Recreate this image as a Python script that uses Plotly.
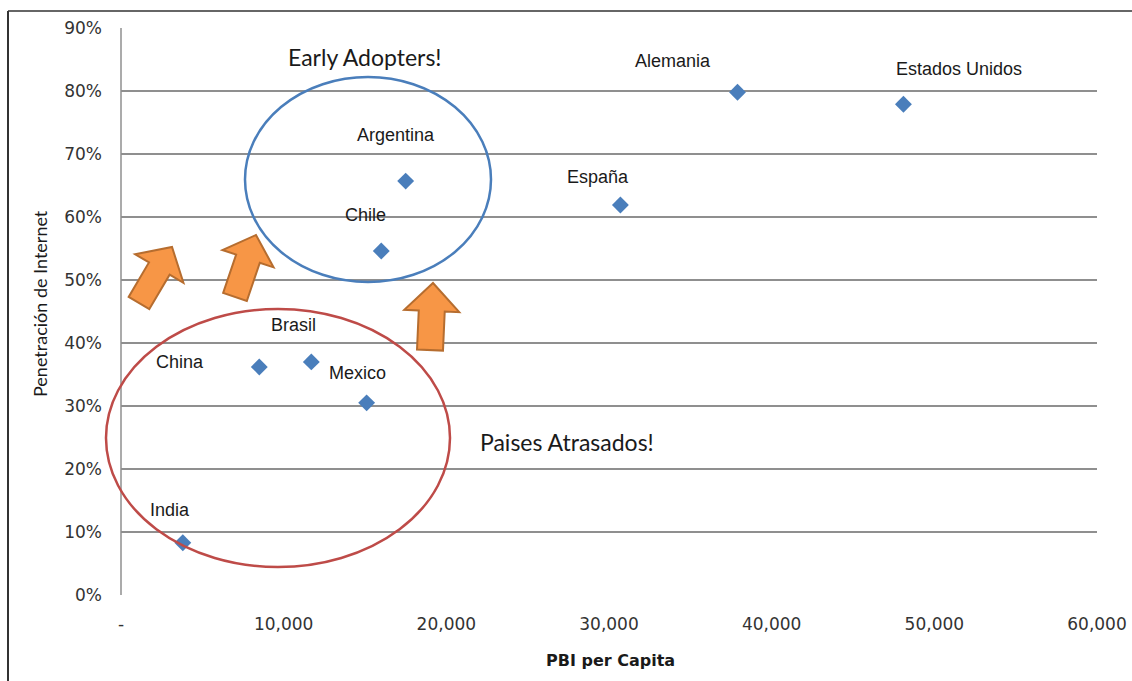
import math
import plotly.graph_objects as go

# PBI per capita vs. penetración de Internet
paises = ["India", "China", "Brasil", "Mexico", "Chile", "Argentina",
          "España", "Alemania", "Estados Unidos"]
pbi_per_capita = [3800, 8500, 11700, 15100, 16000, 17500, 30700, 37900, 48100]
penetracion = [0.083, 0.362, 0.370, 0.305, 0.546, 0.657, 0.619, 0.798, 0.779]

# label offsets (pixels) relative to each marker
label_dx = [-13, -79, -18, -9, -16, -10, -22, -65, 56]
label_dy = [33, 5, 37, 30, 36, 46, 28, 31, 35]

x_ticks = [0, 10000, 20000, 30000, 40000, 50000, 60000]
x_ticktext = ["-", "10,000", "20,000", "30,000", "40,000", "50,000", "60,000"]
y_ticks = [0, 0.1, 0.2, 0.3, 0.4, 0.5, 0.6, 0.7, 0.8, 0.9]

W, H = 1132, 681
L, R, T, B = 121, 35, 28, 86
PW, PH = W - L - R, H - T - B


def px(x):
    return (x - L) / PW


def py(y):
    return (H - B - y) / PH


def block_arrow(base, tip, shaft_w, head_w, head_len):
    bx, by = base
    tx, ty = tip
    dx, dy = tx - bx, ty - by
    n = math.hypot(dx, dy)
    ux, uy = dx / n, dy / n
    nx, ny = -uy, ux
    hx, hy = tx - ux * head_len, ty - uy * head_len
    pts = [
        (bx + nx * shaft_w / 2, by + ny * shaft_w / 2),
        (hx + nx * shaft_w / 2, hy + ny * shaft_w / 2),
        (hx + nx * head_w / 2, hy + ny * head_w / 2),
        (tx, ty),
        (hx - nx * head_w / 2, hy - ny * head_w / 2),
        (hx - nx * shaft_w / 2, hy - ny * shaft_w / 2),
        (bx - nx * shaft_w / 2, by - ny * shaft_w / 2),
    ]
    return "M " + " L ".join(f"{px(a):.5f},{py(b):.5f}" for a, b in pts) + " Z"


fig = go.Figure()
fig.add_trace(go.Scatter(
    x=pbi_per_capita, y=penetracion, mode="markers",
    marker=dict(symbol="diamond", size=13, color="#4A7EBB"),
    hoverinfo="skip", showlegend=False,
))

annotations = []
for name, x, y, dx, dy in zip(paises, pbi_per_capita, penetracion, label_dx, label_dy):
    annotations.append(dict(
        x=x, y=y, xref="x", yref="y", text=name, showarrow=False,
        xanchor="center", yanchor="middle", xshift=dx, yshift=dy,
        font=dict(family="Liberation Sans", size=18, color="#1a1a1a"),
    ))


def note(x, y, text, font, angle=0):
    return dict(x=px(x), y=py(y), xref="paper", yref="paper", text=text,
                showarrow=False, xanchor="center", yanchor="middle",
                textangle=angle, font=font)


annotations += [
    note(365, 57, "Early Adopters!", dict(family="Lato", size=23, color="#1a1a1a")),
    note(567, 442, "Paises Atrasados!", dict(family="Lato", size=23, color="#1a1a1a")),
    note(40, 304, "Penetración de Internet", dict(family="Lato", size=18, color="#1a1a1a"), -90),
    note(610, 661, "<b>PBI per Capita</b>", dict(family="DejaVu Sans", size=16, color="#1a1a1a")),
]

shapes = [
    # outer frame (top and left edges)
    dict(type="line", xref="paper", yref="paper", x0=px(8), y0=py(11), x1=px(W), y1=py(11),
         line=dict(color="#666666", width=2)),
    dict(type="line", xref="paper", yref="paper", x0=px(8), y0=py(11), x1=px(8), y1=py(H),
         line=dict(color="#333333", width=2)),
    # highlight ellipses
    dict(type="circle", xref="paper", yref="paper", x0=px(245), x1=px(491),
         y0=py(282), y1=py(77), line=dict(color="#4A7EBB", width=2.5)),
    dict(type="circle", xref="paper", yref="paper", x0=px(106), x1=px(450),
         y0=py(567), y1=py(309), line=dict(color="#BE4B48", width=2.5)),
]
for base, tip, sw, hw, hl in [
    ((139, 303), (172, 247), 24, 56, 25),
    ((235, 297), (256, 235), 25, 54, 25),
    ((430, 350), (433, 283), 26, 55, 28),
]:
    shapes.append(dict(type="path", xref="paper", yref="paper",
                       path=block_arrow(base, tip, sw, hw, hl),
                       fillcolor="#F79646", line=dict(color="#B66D2F", width=2)))

tick_font = dict(family="DejaVu Sans", size=17, color="#333333")
fig.update_layout(
    width=W, height=H,
    margin=dict(l=L, r=R, t=T, b=B, autoexpand=False),
    paper_bgcolor="white", plot_bgcolor="white",
    annotations=annotations, shapes=shapes,
    xaxis=dict(range=[0, 60000], tickvals=x_ticks, ticktext=x_ticktext,
               showgrid=False, zeroline=False, showline=False, automargin=False,
               ticks="", ticklabelstandoff=17, tickfont=tick_font),
    yaxis=dict(range=[0, 0.9], tickvals=y_ticks, tickformat=".0%",
               showgrid=True, gridcolor="#8f8f8f", gridwidth=1.5,
               zeroline=False, showline=False, automargin=False,
               ticks="", ticklabelstandoff=18, tickfont=tick_font),
)
# left axis line
fig.add_shape(type="line", xref="paper", yref="paper", x0=0, x1=0, y0=0, y1=1,
              line=dict(color="#8f8f8f", width=1.5), layer="below")

fig.write_html("out.html")
